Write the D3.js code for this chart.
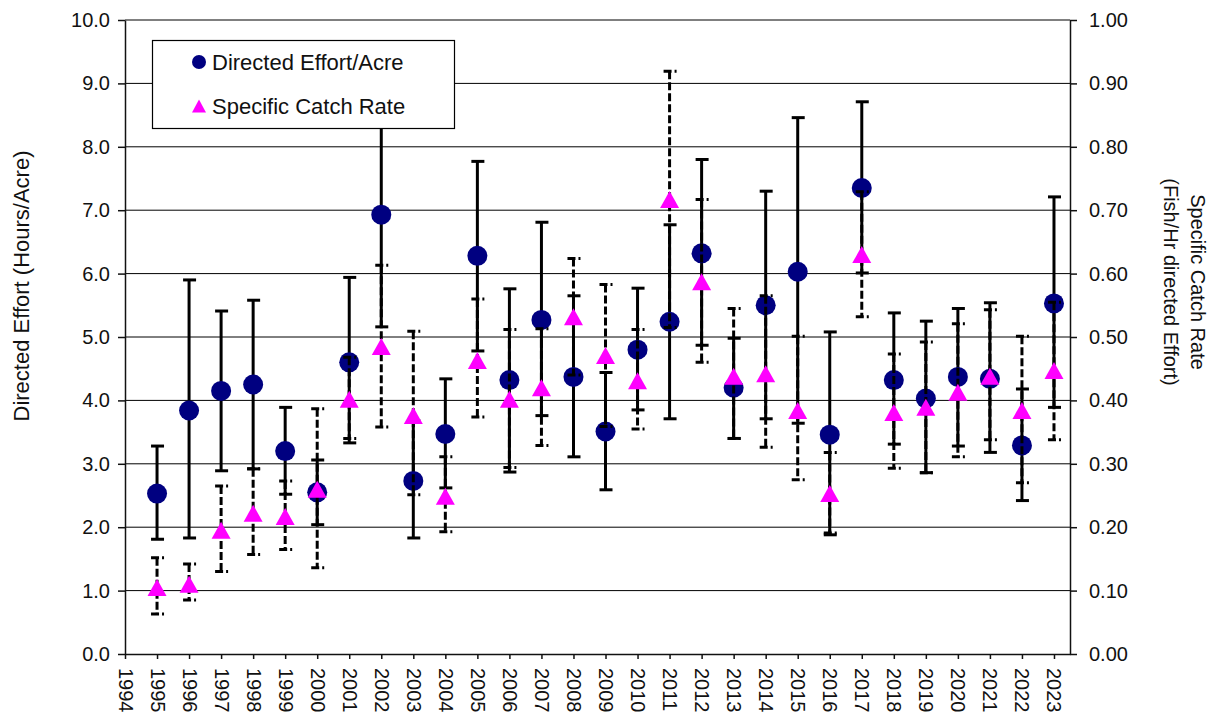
<!DOCTYPE html>
<html>
<head>
<meta charset="utf-8">
<script src="https://cdn.jsdelivr.net/npm/d3@7"></script>
<style>
  html, body { margin: 0; padding: 0; background: #fff; }
  svg { display: block; font-family: "Liberation Sans", Arial, sans-serif; }
</style>
</head>
<body>
<svg id="chart" width="1215" height="719"></svg>
<script>
// Survey years
const years = d3.range(1995, 2024);

// Directed effort (hours/acre) with lower/upper confidence limits
const effort     = [2.53, 3.84, 4.15, 4.25, 3.20, 2.55, 4.60, 6.93, 2.73, 3.47, 6.28, 4.32, 5.27, 4.37, 3.51, 4.80, 5.24, 6.32, 4.20, 5.50, 6.03, 3.46, 7.35, 4.32, 4.03, 4.37, 4.34, 3.29, 5.53];
const effortLow  = [1.81, 1.83, 2.89, 2.92, 2.52, 2.04, 3.33, 5.16, 1.83, 2.62, 4.78, 2.87, 3.76, 3.11, 2.59, 3.85, 3.71, 4.87, 3.40, 3.71, 3.64, 1.88, 6.01, 3.31, 2.86, 3.28, 3.18, 2.42, 3.89];
const effortHigh = [3.28, 5.90, 5.41, 5.58, 3.89, 3.06, 5.94, 8.70, 3.68, 4.34, 7.77, 5.76, 6.81, 5.65, 4.44, 5.77, 6.77, 7.80, 4.98, 7.30, 8.46, 5.08, 8.71, 5.38, 5.25, 5.45, 5.54, 4.18, 7.21];

// Specific catch rate (fish/hr directed effort) with lower/upper confidence limits
const catchRate = [0.105, 0.110, 0.195, 0.222, 0.217, 0.260, 0.402, 0.485, 0.376, 0.249, 0.463, 0.402, 0.420, 0.532, 0.471, 0.431, 0.717, 0.587, 0.438, 0.442, 0.384, 0.253, 0.630, 0.381, 0.389, 0.413, 0.438, 0.384, 0.447];
const catchLow  = [0.063, 0.085, 0.130, 0.157, 0.165, 0.136, 0.340, 0.358, 0.251, 0.193, 0.374, 0.294, 0.329, 0.440, 0.359, 0.355, 0.515, 0.460, 0.340, 0.326, 0.275, 0.191, 0.532, 0.293, 0.286, 0.311, 0.338, 0.270, 0.338];
const catchHigh = [0.152, 0.142, 0.265, 0.292, 0.273, 0.387, 0.468, 0.613, 0.509, 0.311, 0.560, 0.512, 0.513, 0.624, 0.583, 0.512, 0.919, 0.717, 0.545, 0.565, 0.501, 0.318, 0.729, 0.473, 0.492, 0.521, 0.543, 0.501, 0.555];

// Axis ticks
const yearTicks   = d3.range(1994, 2024);
const effortTicks = d3.range(0, 11, 1);
const rateTicks   = d3.range(0, 11, 1).map(d => d / 10);

const legendLabels = ["Directed Effort/Acre", "Specific Catch Rate"];
const leftTitle = "Directed Effort (Hours/Acre)";
const rightTitle = ["Specific Catch Rate", "(Fish/Hr directed Effort)"];

const NAVY = "#000080", MAGENTA = "#ff00ff", INK = "#111";

const svg = d3.select("#chart");
const L = 125, R = 1070, T = 20, B = 654;

const x  = d3.scaleLinear().domain([1994, 2023.5]).range([L, R]);
const yE = d3.scaleLinear().domain([0, 10]).range([B, T]);
const yC = d3.scaleLinear().domain([0, 1]).range([B, T]);

svg.append("rect").attr("width", 1215).attr("height", 719).attr("fill", "#fff");

// Horizontal gridlines
svg.append("g").selectAll("line")
  .data(effortTicks.filter(d => d > 0))
  .join("line")
  .attr("x1", L).attr("x2", R)
  .attr("y1", d => yE(d)).attr("y2", d => yE(d))
  .attr("stroke", "#000").attr("stroke-width", 1);

function styleAxis(g) {
  g.selectAll("path.domain").attr("stroke", INK).attr("stroke-width", 1.5);
  g.selectAll(".tick line").attr("stroke", INK).attr("stroke-width", 1.5);
  g.selectAll("text").attr("fill", INK).style("font-size", "20px")
    .style("font-family", "'Liberation Sans', Arial, sans-serif");
}

// Left axis
svg.append("g")
  .attr("transform", `translate(${L},0)`)
  .call(d3.axisLeft(yE).tickValues(effortTicks).tickFormat(d3.format(".1f"))
        .tickSize(7).tickSizeOuter(0).tickPadding(8))
  .call(styleAxis);

// Right axis
svg.append("g")
  .attr("transform", `translate(${R},0)`)
  .call(d3.axisRight(yC).tickValues(rateTicks).tickFormat(d3.format(".2f"))
        .tickSize(7).tickSizeOuter(0).tickPadding(12))
  .call(styleAxis);

// Bottom axis with vertical year labels
const xAxis = svg.append("g")
  .attr("transform", `translate(0,${B})`)
  .call(d3.axisBottom(x).tickValues(yearTicks).tickFormat(d3.format("d"))
        .tickSize(5).tickSizeOuter(0))
  .call(styleAxis);
xAxis.selectAll("text")
  .attr("y", 0).attr("x", 14).attr("dy", "0.35em")
  .attr("transform", "rotate(90)")
  .style("text-anchor", "start");

// Error bar helper
function errorBars(g, lo, hi, yScale, opts) {
  const rows = years.map((yr, i) => ({ yr, lo: lo[i], hi: hi[i] }));
  const grp = g.append("g")
    .attr("stroke", "#000").attr("stroke-width", opts.width).attr("fill", "none")
    .attr("stroke-dasharray", opts.dash || null);
  grp.selectAll("line.v").data(rows).join("line").attr("class", "v")
    .attr("x1", d => x(d.yr)).attr("x2", d => x(d.yr))
    .attr("y1", d => yScale(d.hi)).attr("y2", d => yScale(d.lo));
  ["hi", "lo"].forEach(k => {
    grp.selectAll("line.c" + k).data(rows).join("line").attr("class", "c" + k)
      .attr("x1", d => x(d.yr) - 6).attr("x2", d => x(d.yr) + 7)
      .attr("y1", d => yScale(d[k])).attr("y2", d => yScale(d[k]));
  });
}

const tri = (cx, cy, w, h) =>
  `M${cx},${cy - h / 2}L${cx + w / 2},${cy + h / 2}L${cx - w / 2},${cy + h / 2}Z`;

// Effort series
errorBars(svg, effortLow, effortHigh, yE, { width: 3 });
svg.append("g").selectAll("circle")
  .data(years.map((yr, i) => ({ yr, v: effort[i] })))
  .join("circle")
  .attr("cx", d => x(d.yr)).attr("cy", d => yE(d.v)).attr("r", 10)
  .attr("fill", NAVY);

// Catch rate series
errorBars(svg, catchLow, catchHigh, yC, { width: 3, dash: "8,3" });
svg.append("g").selectAll("path")
  .data(years.map((yr, i) => ({ yr, v: catchRate[i] })))
  .join("path")
  .attr("d", d => tri(x(d.yr), yC(d.v), 19, 17))
  .attr("fill", MAGENTA);

// Axis titles
svg.append("text")
  .attr("transform", `translate(21,286) rotate(-90)`)
  .attr("dy", "0.35em")
  .attr("text-anchor", "middle")
  .attr("fill", INK).style("font-size", "22px")
  .text(leftTitle);

const rt = svg.append("g").attr("transform", "translate(1198,282) rotate(90)");
rt.selectAll("text").data(rightTitle).join("text")
  .attr("x", 0).attr("y", (d, i) => i * 27).attr("dy", "0.35em")
  .attr("text-anchor", "middle")
  .attr("fill", INK).style("font-size", "20px")
  .text(d => d);

// Legend
const lg = svg.append("g");
lg.append("rect").attr("x", 152.5).attr("y", 40.5).attr("width", 302).attr("height", 88)
  .attr("fill", "#fff").attr("stroke", "#000").attr("stroke-width", 1.2);
lg.append("circle").attr("cx", 199).attr("cy", 62).attr("r", 7).attr("fill", NAVY);
lg.append("path").attr("d", tri(199, 106, 14, 13)).attr("fill", MAGENTA);
lg.selectAll("text").data(legendLabels).join("text")
  .attr("x", 212).attr("y", (d, i) => 70 + i * 44)
  .attr("fill", INK).style("font-size", "22px")
  .text(d => d);
</script>
</body>
</html>
